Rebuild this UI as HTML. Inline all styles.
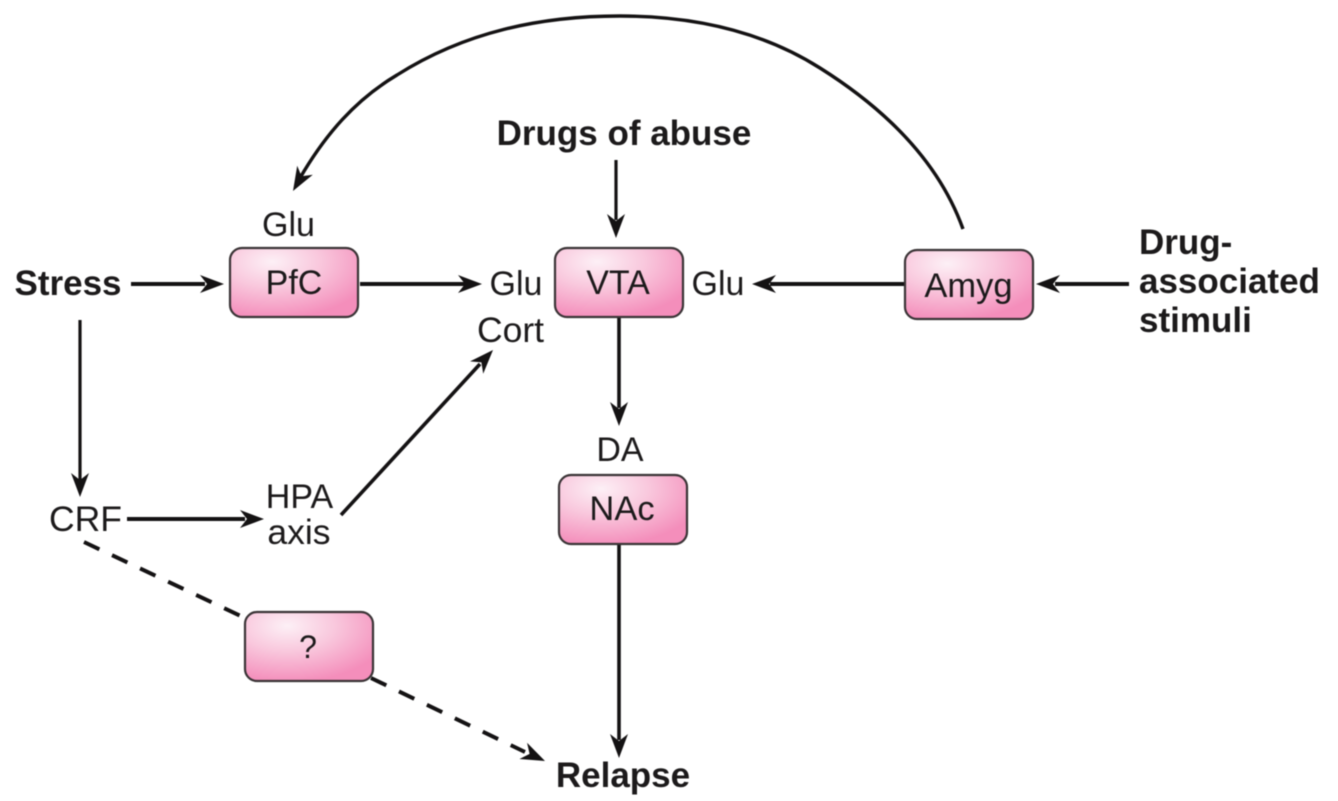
<!DOCTYPE html>
<html><head><meta charset="utf-8"><style>
html,body{margin:0;padding:0;background:#fff;width:1338px;height:801px;overflow:hidden}
svg{display:block;filter:blur(0.5px)}
text{font-family:"Liberation Sans",sans-serif;fill:#1c1a1b;font-size:34px;text-anchor:middle}
.b{font-weight:bold;font-size:35px}
.l{text-anchor:start}
.box{stroke:#3a3436;stroke-width:2.2;fill:url(#g)}
.ln{stroke:#141213;fill:none;stroke-width:4}
.th{stroke:#141213;fill:none;stroke-width:3.2}
.hd{fill:#141213}
</style></head><body>
<svg width="1338" height="801" viewBox="0 0 1338 801" xmlns="http://www.w3.org/2000/svg">
<defs>
<radialGradient id="g" cx="0.33" cy="0.2" r="0.82">
<stop offset="0" stop-color="#fdf0f6"/><stop offset="0.45" stop-color="#f9c8dd"/><stop offset="1" stop-color="#f48ebb"/>
</radialGradient>
<path id="ah" d="M0 0 L-24 -9 L-17 0 L-24 9 Z"/>
</defs>

<!-- arc -->
<path class="th" style="stroke-width:3.4" d="M963 229 C940 165 890 112 820 68 C760 30 690 16 620 16 C540 16 465 32 397 75 C355 100 325 135 300 178"/>
<use href="#ah" class="hd" transform="translate(293 191) rotate(120)"/>

<!-- straight connectors -->
<path class="th" d="M616 160V220"/><use href="#ah" class="hd" transform="translate(616 238) rotate(90)"/>
<path class="ln" d="M131 284H205"/><use href="#ah" class="hd" transform="translate(224 284)"/>
<path class="ln" d="M360 284H465"/><use href="#ah" class="hd" transform="translate(482 284)"/>
<path class="ln" d="M905 284H770"/><use href="#ah" class="hd" transform="translate(752 284) rotate(180)"/>
<path class="ln" d="M1129 284H1055"/><use href="#ah" class="hd" transform="translate(1036 284) rotate(180)"/>
<path class="th" style="stroke-width:3.6" d="M619 318V408"/><use href="#ah" class="hd" transform="translate(619 426) rotate(90)"/>
<path class="th" d="M80 320V480"/><use href="#ah" class="hd" transform="translate(80 497) rotate(90)"/>
<path class="ln" d="M127 519H245"/><use href="#ah" class="hd" transform="translate(264 519)"/>
<path class="th" style="stroke-width:3.6" d="M341 515L480 364"/><use href="#ah" class="hd" transform="translate(493 350) rotate(-47)"/>
<path class="th" style="stroke-width:3.6" d="M619 545V740"/><use href="#ah" class="hd" transform="translate(619 758) rotate(90)"/>

<!-- dashed -->
<path class="ln" d="M84 542L245 618" stroke-dasharray="17 14"/>
<path class="ln" d="M371 678L525 752" stroke-dasharray="17 14"/>
<use href="#ah" class="hd" transform="translate(545 761) rotate(25)"/>

<!-- boxes -->
<rect class="box" x="230" y="248" width="128" height="69" rx="12"/>
<rect class="box" x="555" y="248" width="128" height="69" rx="12"/>
<rect class="box" x="905" y="250" width="128" height="69" rx="12"/>
<rect class="box" x="559" y="475" width="128" height="69" rx="12"/>
<rect class="box" x="245" y="612" width="128" height="69" rx="12"/>

<!-- labels -->
<text x="294" y="294">PfC</text>
<text x="618" y="294">VTA</text>
<text x="968.500" y="297" style="font-size:34.500px">Amyg</text>
<text x="622" y="520" style="font-size:34.500px">NAc</text>
<text x="308" y="658" style="font-size:32px">?</text>

<text x="288.500" y="236">Glu</text>
<text x="516" y="295">Glu</text>
<text x="718" y="295">Glu</text>
<text x="510.500" y="342" style="font-size:35.500px">Cort</text>
<text x="620" y="461">DA</text>
<text x="85.500" y="531" style="font-size:35.500px">CRF</text>
<text x="299.500" y="508">HPA</text>
<text x="299" y="544" style="font-size:35.500px">axis</text>

<text class="b" x="68" y="295">Stress</text>
<text class="b" x="624" y="145">Drugs of abuse</text>
<text class="b" x="623" y="787">Relapse</text>
<text class="b l" x="1139" y="254">Drug-</text>
<text class="b l" x="1139" y="293">associated</text>
<text class="b l" x="1139" y="332">stimuli</text>
</svg>
</body></html>
